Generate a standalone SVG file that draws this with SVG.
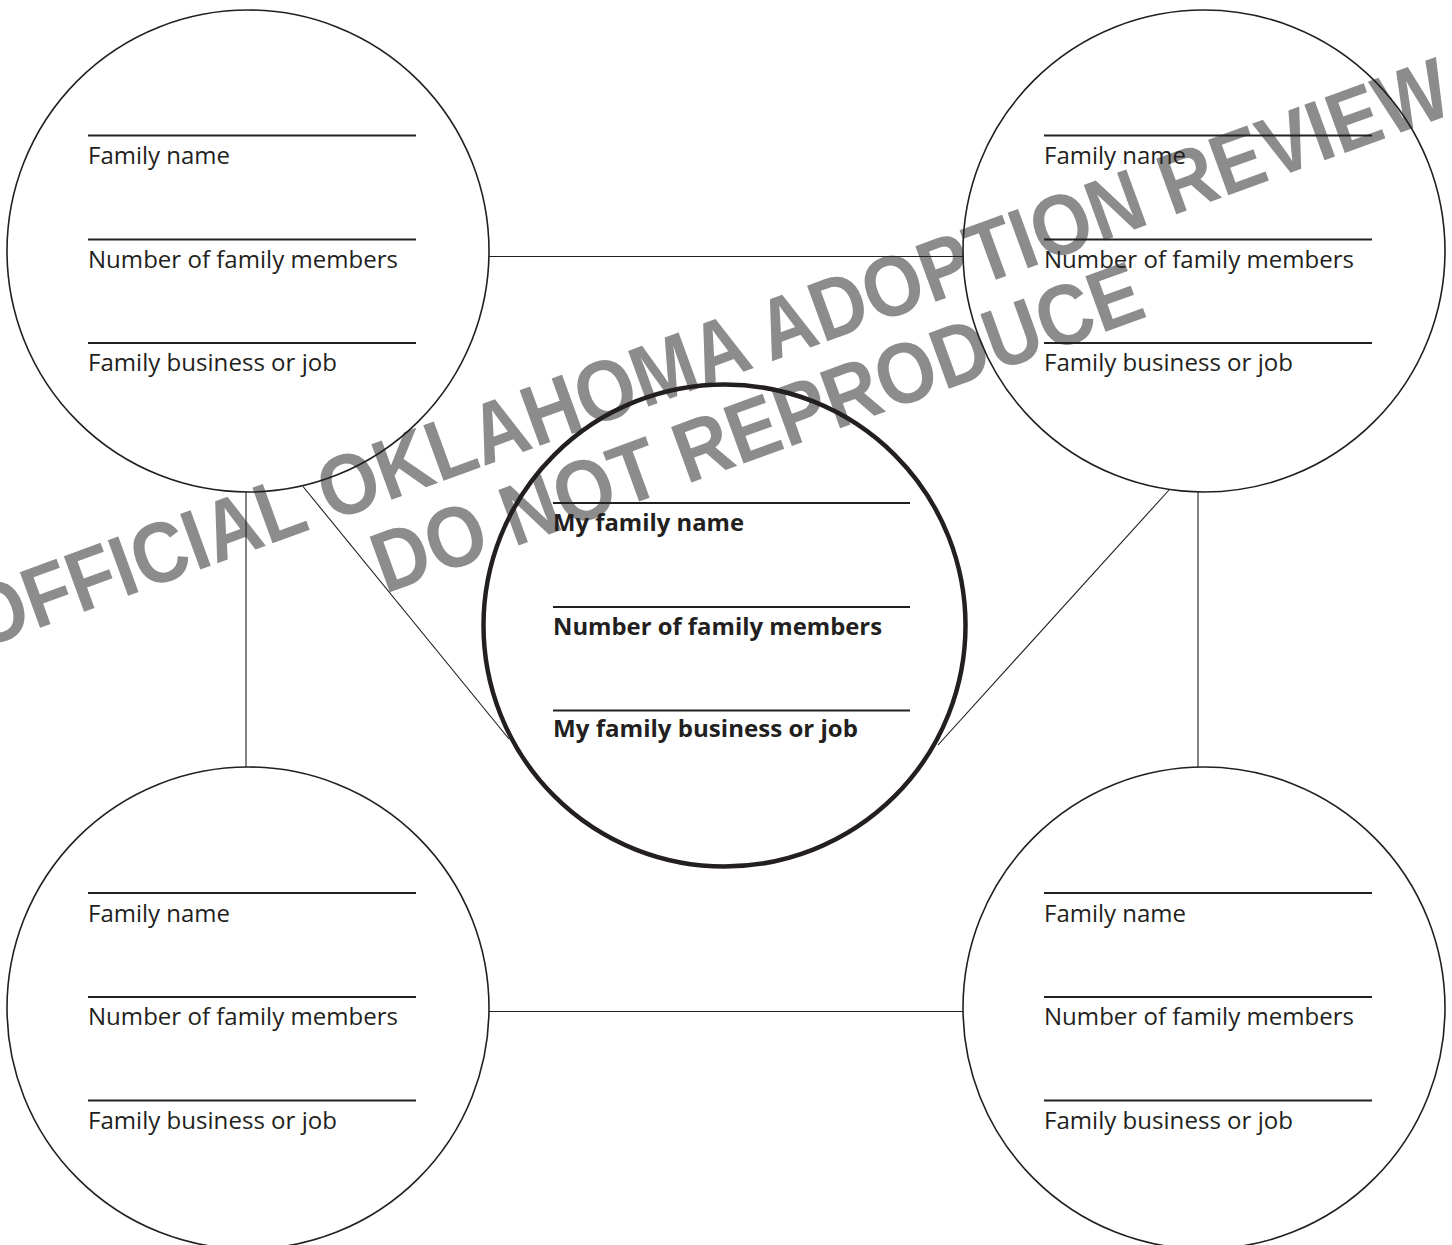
<svg xmlns="http://www.w3.org/2000/svg" width="1452" height="1245" viewBox="0 0 1452 1245">
<style>
.bg{fill:#ffffff}
.wm{font-family:"Liberation Sans",Arial,sans-serif;font-weight:bold;font-size:86px;fill:#8c8c8c}
.ring{fill:none;stroke:#231f20;stroke-width:1.6}
.ring-main{fill:none;stroke:#231f20;stroke-width:4.5}
.rule{stroke:#231f20;stroke-width:2}
.conn{stroke:#231f20;stroke-width:1.1;fill:none}
.lbl{font-family:"Open Sans","Noto Sans",sans-serif;font-size:24px;fill:#231f20}
.lblb{font-family:"Open Sans","Noto Sans",sans-serif;font-size:24px;font-weight:bold;fill:#231f20}
</style>
<rect class="bg" x="0" y="0" width="1452" height="1245"/>
<g id="watermark">
<text class="wm" x="-21" y="650" transform="rotate(-20 -21 650)" textLength="1572" lengthAdjust="spacingAndGlyphs">OFFICIAL OKLAHOMA ADOPTION REVIEW</text>
<text class="wm" x="385" y="594" transform="rotate(-20 385 594)" textLength="813" lengthAdjust="spacingAndGlyphs">DO NOT REPRODUCE</text>
</g>
<g id="connectors">
<line class="conn" x1="489" y1="256.5" x2="963" y2="256.5"/>
<line class="conn" x1="489" y1="1011.5" x2="963" y2="1011.5"/>
<line class="conn" x1="246" y1="492" x2="246" y2="767"/>
<line class="conn" x1="1198" y1="492" x2="1198" y2="767"/>
<line class="conn" x1="303" y1="486.5" x2="509" y2="739"/>
<line class="conn" x1="1169" y1="490" x2="938" y2="745"/>
</g>
<g id="node-top-left">
<circle class="ring" cx="248" cy="251" r="241"/>
<line class="rule" x1="88" y1="135.5" x2="416" y2="135.5"/>
<line class="rule" x1="88" y1="239.5" x2="416" y2="239.5"/>
<line class="rule" x1="88" y1="343" x2="416" y2="343"/>
<text class="lbl" x="88" y="164" textLength="142" lengthAdjust="spacingAndGlyphs">Family name</text>
<text class="lbl" x="88" y="267.5" textLength="310" lengthAdjust="spacingAndGlyphs">Number of family members</text>
<text class="lbl" x="88" y="371" textLength="249" lengthAdjust="spacingAndGlyphs">Family business or job</text>
</g>
<g id="node-top-right">
<circle class="ring" cx="1204" cy="251" r="241"/>
<line class="rule" x1="1044" y1="135.5" x2="1372" y2="135.5"/>
<line class="rule" x1="1044" y1="239.5" x2="1372" y2="239.5"/>
<line class="rule" x1="1044" y1="343" x2="1372" y2="343"/>
<text class="lbl" x="1044" y="164" textLength="142" lengthAdjust="spacingAndGlyphs">Family name</text>
<text class="lbl" x="1044" y="267.5" textLength="310" lengthAdjust="spacingAndGlyphs">Number of family members</text>
<text class="lbl" x="1044" y="371" textLength="249" lengthAdjust="spacingAndGlyphs">Family business or job</text>
</g>
<g id="node-center">
<circle class="ring-main" cx="724.5" cy="625.5" r="241"/>
<line class="rule" x1="553" y1="503" x2="910" y2="503"/>
<line class="rule" x1="553" y1="607" x2="910" y2="607"/>
<line class="rule" x1="553" y1="710.5" x2="910" y2="710.5"/>
<text class="lblb" x="553" y="531" textLength="191" lengthAdjust="spacingAndGlyphs">My family name</text>
<text class="lblb" x="553" y="634.5" textLength="329" lengthAdjust="spacingAndGlyphs">Number of family members</text>
<text class="lblb" x="553" y="737" textLength="305" lengthAdjust="spacingAndGlyphs">My family business or job</text>
</g>
<g id="node-bottom-left">
<circle class="ring" cx="248" cy="1008" r="241"/>
<line class="rule" x1="88" y1="893" x2="416" y2="893"/>
<line class="rule" x1="88" y1="997" x2="416" y2="997"/>
<line class="rule" x1="88" y1="1100.5" x2="416" y2="1100.5"/>
<text class="lbl" x="88" y="921.5" textLength="142" lengthAdjust="spacingAndGlyphs">Family name</text>
<text class="lbl" x="88" y="1025" textLength="310" lengthAdjust="spacingAndGlyphs">Number of family members</text>
<text class="lbl" x="88" y="1128.5" textLength="249" lengthAdjust="spacingAndGlyphs">Family business or job</text>
</g>
<g id="node-bottom-right">
<circle class="ring" cx="1204" cy="1008" r="241"/>
<line class="rule" x1="1044" y1="893" x2="1372" y2="893"/>
<line class="rule" x1="1044" y1="997" x2="1372" y2="997"/>
<line class="rule" x1="1044" y1="1100.5" x2="1372" y2="1100.5"/>
<text class="lbl" x="1044" y="921.5" textLength="142" lengthAdjust="spacingAndGlyphs">Family name</text>
<text class="lbl" x="1044" y="1025" textLength="310" lengthAdjust="spacingAndGlyphs">Number of family members</text>
<text class="lbl" x="1044" y="1128.5" textLength="249" lengthAdjust="spacingAndGlyphs">Family business or job</text>
</g>
</svg>
